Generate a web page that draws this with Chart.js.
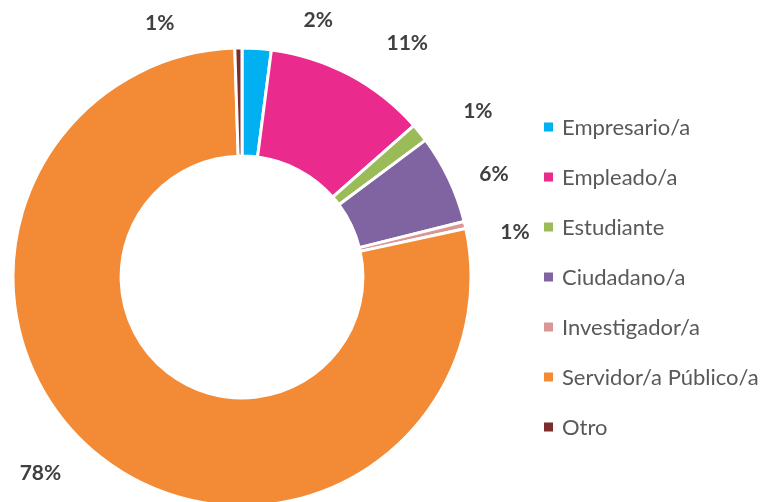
<!DOCTYPE html>
<html>
<head>
<meta charset="utf-8">
<script src="https://cdn.jsdelivr.net/npm/chart.js@4"></script>
<style>
  html, body { margin: 0; padding: 0; background: #fff; overflow: hidden; }
  #wrap { width: 765px; height: 502px; }
</style>
</head>
<body>
<div id="wrap"><canvas id="dona" width="765" height="502"></canvas></div>
<script>
// datos (porcentajes)
const categorias = ['Empresario/a', 'Empleado/a', 'Estudiante', 'Ciudadano/a', 'Investigador/a', 'Servidor/a Público/a', 'Otro'];
const porcentajes = [2.05, 11.45, 1.3, 6.3, 0.5, 77.9, 0.5];
const colores = ['#00B0F0', '#EB2A8D', '#9BBB59', '#8064A2', '#D99694', '#F38A36', '#7B2C2B'];

// ajuste manual de las etiquetas (como en el original)
const nudges = [[59, 12], [39, 4], [27, 4], [9, 13], [11, 16], [-36, -16], [-78, 15]];

const etiquetas = {
    id: 'etiquetas',
    afterDatasetsDraw(chart) {
        const ctx = chart.ctx;
        const meta = chart.getDatasetMeta(0);
        ctx.save();
        ctx.font = 'bold 21px Lato';
        ctx.fillStyle = '#404040';
        ctx.textAlign = 'center';
        ctx.textBaseline = 'middle';
        meta.data.forEach((arc, i) => {
            const p = arc.getProps(['x', 'y', 'startAngle', 'endAngle', 'outerRadius']);
            const mid = (p.startAngle + p.endAngle) / 2;
            const r = p.outerRadius + 40;
            const x = p.x + Math.cos(mid) * r + nudges[i][0];
            const y = p.y + Math.sin(mid) * r + nudges[i][1];
            ctx.fillText(Math.round(porcentajes[i]) + '%', x, y);
        });
        ctx.restore();
    }
};

const leyenda = {
    id: 'leyenda',
    afterDraw(chart) {
        const ctx = chart.ctx;
        ctx.save();
        ctx.font = '22px Lato';
        ctx.textBaseline = 'middle';
        categorias.forEach((c, i) => {
            const y = 127 + i * 50;
            ctx.fillStyle = colores[i];
            ctx.fillRect(544, y - 4.5, 9, 9);
            ctx.fillStyle = '#595959';
            ctx.fillText(c, 562, y + 1);
        });
        ctx.restore();
    }
};

new Chart(document.querySelector('#dona'), {
    type: 'doughnut',
    data: {
        labels: categorias,
        datasets: [{
            data: porcentajes,
            backgroundColor: colores,
            borderColor: '#ffffff',
            borderWidth: 3,
            clip: false
        }]
    },
    options: {
        responsive: false,
        animation: false,
        devicePixelRatio: 1,
        radius: 229,
        cutout: 118,
        layout: { padding: { left: 0, right: 281, top: 52, bottom: 0 } },
        plugins: {
            legend: { display: false },
            tooltip: { enabled: false }
        }
    },
    plugins: [etiquetas, leyenda]
});
</script>
</body>
</html>
